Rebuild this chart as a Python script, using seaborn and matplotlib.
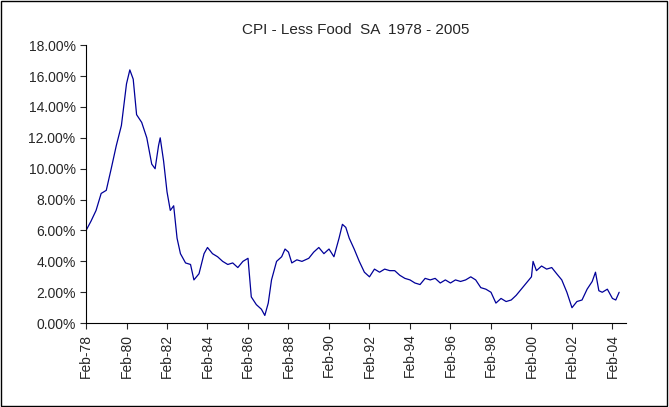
import pandas as pd
import seaborn as sns
import matplotlib.pyplot as plt
import matplotlib.dates as mdates
from matplotlib.ticker import FuncFormatter
from matplotlib.patches import Rectangle

# readings (month, CPI less food % change)
months = ["1978-02", "1978-05", "1978-08", "1978-11",
          "1979-02", "1979-05", "1979-08", "1979-11",
          "1980-02", "1980-04", "1980-06", "1980-08", "1980-11",
          "1981-02", "1981-05", "1981-07", "1981-09", "1981-10", "1981-12",
          "1982-02", "1982-04", "1982-06", "1982-08", "1982-10",
          "1983-01", "1983-04", "1983-06", "1983-09", "1983-12",
          "1984-02", "1984-05", "1984-08", "1984-11",
          "1985-02", "1985-05", "1985-08", "1985-11",
          "1986-02", "1986-04", "1986-07", "1986-10", "1986-12",
          "1987-02", "1987-04", "1987-07", "1987-10", "1987-12",
          "1988-02", "1988-04", "1988-07", "1988-10",
          "1989-02", "1989-05", "1989-08", "1989-11",
          "1990-02", "1990-05", "1990-08", "1990-10", "1990-12",
          "1991-02", "1991-05", "1991-08", "1991-11",
          "1992-02", "1992-05", "1992-08", "1992-11",
          "1993-02", "1993-05", "1993-08", "1993-11",
          "1994-02", "1994-05", "1994-08", "1994-11",
          "1995-02", "1995-05", "1995-08", "1995-11",
          "1996-02", "1996-05", "1996-08", "1996-11",
          "1997-02", "1997-05", "1997-08", "1997-11",
          "1998-02", "1998-05", "1998-08", "1998-11",
          "1999-02", "1999-05", "1999-08", "1999-11",
          "2000-02", "2000-03", "2000-05", "2000-08", "2000-11",
          "2001-02", "2001-05", "2001-08", "2001-11",
          "2002-02", "2002-05", "2002-08", "2002-11",
          "2003-02", "2003-04", "2003-06", "2003-08", "2003-11",
          "2004-02", "2004-04", "2004-06"]
cpi = [6.0, 6.6, 7.3, 8.4,
       8.6, 10.0, 11.5, 12.8,
       15.5, 16.4, 15.8, 13.5, 13.0,
       12.0, 10.3, 10.0, 11.5, 12.0, 10.5,
       8.5, 7.3, 7.6, 5.5, 4.5,
       3.9, 3.8, 2.8, 3.2, 4.5,
       4.9, 4.5, 4.3, 4.0,
       3.8, 3.9, 3.6, 4.0,
       4.2, 1.7, 1.2, 0.9, 0.5,
       1.3, 2.8, 4.0, 4.3, 4.8,
       4.6, 3.9, 4.1, 4.0,
       4.2, 4.6, 4.9, 4.5,
       4.8, 4.3, 5.5, 6.4, 6.2,
       5.5, 4.8, 4.0, 3.3,
       3.0, 3.5, 3.3, 3.5,
       3.4, 3.4, 3.1, 2.9,
       2.8, 2.6, 2.5, 2.9,
       2.8, 2.9, 2.6, 2.8,
       2.6, 2.8, 2.7, 2.8,
       3.0, 2.8, 2.3, 2.2,
       2.0, 1.3, 1.6, 1.4,
       1.5, 1.8, 2.2, 2.6,
       3.0, 4.0, 3.4, 3.7, 3.5,
       3.6, 3.2, 2.8, 2.0,
       1.0, 1.4, 1.5, 2.2,
       2.7, 3.3, 2.1, 2.0, 2.2,
       1.6, 1.5, 2.0]

df = pd.DataFrame({"date": pd.to_datetime(months), "cpi": [v / 100 for v in cpi]})

sns.set_style("white")
plt.rcParams["font.family"] = ["Liberation Sans", "DejaVu Sans"]

fig = plt.figure(figsize=(6.69, 4.07), dpi=100)
ax = fig.add_axes([0.1286, 0.206, 0.807, 0.683])
sns.lineplot(data=df, x="date", y="cpi", color="#000099", linewidth=0.9, ax=ax)

ax.set_ylim(0, 0.18)
ax.set_yticks([i / 100 for i in range(0, 19, 2)])
ax.yaxis.set_major_formatter(FuncFormatter(lambda v, p: f"{v * 100:.2f}%"))
ax.set_xlim(pd.Timestamp("1978-02-01"), pd.Timestamp("2004-10-01"))
ax.set_xticks(pd.date_range("1978-02-01", "2004-02-01", freq="24MS"))
ax.xaxis.set_major_formatter(mdates.DateFormatter("%b-%y"))
ax.tick_params(axis="x", rotation=90, labelsize=10, length=4, direction="out", bottom=True)
ax.tick_params(axis="y", labelsize=10, length=4, direction="out", left=True)
ax.set_xlabel("")
ax.set_ylabel("")
sns.despine(ax=ax)
ax.spines["left"].set_color("black")
ax.spines["bottom"].set_color("black")
ax.set_title("CPI - Less Food  SA  1978 - 2005", fontsize=11, pad=8)

fig.patches.append(Rectangle((0.002, 0.003), 0.995, 0.994, transform=fig.transFigure,
                             fill=False, edgecolor="black", linewidth=1))
fig.savefig("out.png", dpi=100)
